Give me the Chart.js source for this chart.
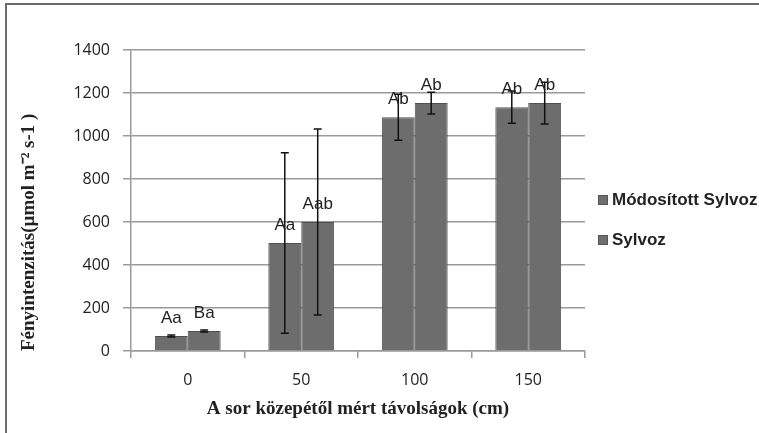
<!DOCTYPE html>
<html>
<head>
<meta charset="utf-8">
<title>Fényintenzitás</title>
<script src="https://cdn.jsdelivr.net/npm/chart.js"></script>
<style>
  html, body { margin: 0; padding: 0; background: #fff; overflow: hidden; }
  .keret { position: absolute; left: 5px; top: 3px; width: 800px; height: 480px;
           border-left: 2px solid #6a6a6a; border-top: 2px solid #6a6a6a; }
  canvas { position: absolute; left: 0; top: 0; }
</style>
</head>
<body>
<div class="keret">
  <canvas id="myChart" width="752" height="428"></canvas>
</div>
<script>
const tavolsagok = ['0', '50', '100', '150']
const modositott = [70, 502, 1087, 1134]
const modositottHiba = [5, 420, 107, 75]
const sylvoz = [93, 600, 1153, 1153]
const sylvozHiba = [5, 432, 51, 97]
const modositottBetuk = ['Aa', 'Aa', 'Ab', 'Ab']
const sylvozBetuk = ['Ba', 'Aab', 'Ab', 'Ab']
const sorozatNevek = ['Módosított Sylvoz', 'Sylvoz']
const yMax = 1400
const yLepes = 200

const hibak = [modositottHiba, sylvozHiba]
const betuk = [modositottBetuk, sylvozBetuk]

// error bars drawn through the y scale
const hibaPlugin = {
  id: 'hibak',
  afterDatasetsDraw(chart) {
    const ctx = chart.ctx
    const y = chart.scales.y
    ctx.save()
    ctx.strokeStyle = '#111'
    ctx.lineWidth = 1.5
    chart.data.datasets.forEach((ds, i) => {
      chart.getDatasetMeta(i).data.forEach((bar, j) => {
        const v = ds.data[j]
        const top = y.getPixelForValue(v + hibak[i][j])
        const bottom = y.getPixelForValue(v - hibak[i][j])
        ctx.beginPath()
        ctx.moveTo(bar.x, top)
        ctx.lineTo(bar.x, bottom)
        ctx.moveTo(bar.x - 4, top)
        ctx.lineTo(bar.x + 4, top)
        ctx.moveTo(bar.x - 4, bottom)
        ctx.lineTo(bar.x + 4, bottom)
        ctx.stroke()
      })
    })
    ctx.restore()
  }
}

// letters above the bars
const betuPlugin = {
  id: 'betuk',
  afterDatasetsDraw(chart) {
    const ctx = chart.ctx
    ctx.save()
    ctx.font = '17px "Liberation Sans", Arial, sans-serif'
    ctx.fillStyle = '#222'
    ctx.textAlign = 'center'
    ctx.textBaseline = 'alphabetic'
    chart.data.datasets.forEach((ds, i) => {
      chart.getDatasetMeta(i).data.forEach((bar, j) => {
        ctx.fillText(betuk[i][j], bar.x, bar.y - 13)
      })
    })
    ctx.restore()
  }
}

// legend on the right, runs off the edge like the original
const jelmagyarazat = {
  id: 'jelmagyarazat',
  afterDraw(chart) {
    const ctx = chart.ctx
    const x = chart.chartArea.right + 13
    ctx.save()
    ctx.font = 'bold 17px "Liberation Sans", Arial, sans-serif'
    ctx.textBaseline = 'middle'
    ctx.textAlign = 'left'
    sorozatNevek.forEach((nev, i) => {
      const yy = 195 + i * 40
      ctx.fillStyle = '#6e6e6e'
      ctx.fillRect(x, yy - 5, 10, 10)
      ctx.strokeStyle = '#555'
      ctx.lineWidth = 1
      ctx.strokeRect(x + 0.5, yy - 4.5, 9, 9)
      ctx.fillStyle = '#222'
      ctx.fillText(nev, x + 14, yy)
    })
    ctx.restore()
  }
}

const ctx = document.getElementById('myChart').getContext('2d')
const myChart = new Chart(ctx, {
  type: 'bar',
  data: {
    labels: tavolsagok,
    datasets: [
      { label: sorozatNevek[0], data: modositott, backgroundColor: '#6d6d6d', borderColor: '#505050', borderWidth: 1 },
      { label: sorozatNevek[1], data: sylvoz, backgroundColor: '#6d6d6d', borderColor: '#505050', borderWidth: 1 }
    ]
  },
  options: {
    responsive: false,
    animation: false,
    devicePixelRatio: 1,
    layout: { padding: { top: 45, right: 174, left: 0, bottom: 0 } },
    datasets: { bar: { categoryPercentage: 0.58, barPercentage: 1 } },
    plugins: { legend: { display: false }, tooltip: { enabled: false } },
    scales: {
      x: {
        afterFit(scale) { scale.height = 82 },
        grid: { drawOnChartArea: false, tickLength: 7, color: '#9a9a9a', lineWidth: 1.5 },
        border: { color: '#9a9a9a', width: 1.5 },
        ticks: { color: '#222', padding: 13, font: { family: '"Open Sans", sans-serif', size: 16 } },
        title: {
          display: true,
          text: 'A sor közepétől mért távolságok (cm)',
          color: '#222',
          padding: { bottom: 13, top: 0 },
          font: { family: '"Liberation Serif", "Times New Roman", serif', size: 19, weight: 'bold' }
        }
      },
      y: {
        min: 0,
        max: yMax,
        afterFit(scale) { scale.width = 124 },
        grid: { tickLength: 8, color: '#9a9a9a', lineWidth: 1.5 },
        border: { color: '#9a9a9a', width: 1.5 },
        ticks: {
          stepSize: yLepes,
          color: '#222',
          padding: 13,
          font: { family: '"Open Sans", sans-serif', size: 16 },
          callback: v => String(v)
        },
        title: {
          display: true,
          align: 'start',
          text: 'Fényintenzitás(µmol m⁻² s-1 )',
          color: '#222',
          padding: { top: 11, bottom: 0 },
          font: { family: '"Liberation Serif", "Times New Roman", serif', size: 19, weight: 'bold' }
        }
      }
    }
  },
  plugins: [hibaPlugin, betuPlugin, jelmagyarazat]
})
</script>
</body>
</html>
